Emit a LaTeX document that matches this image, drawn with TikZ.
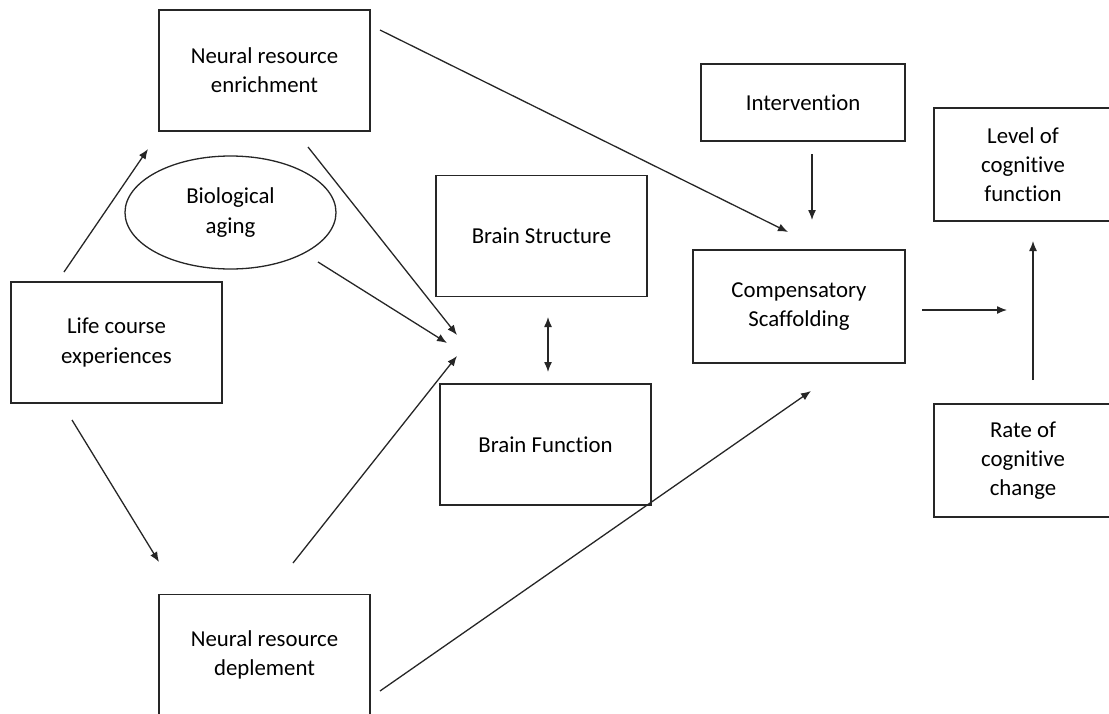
\documentclass[tikz,border=0pt]{standalone}
\usepackage{fontspec}
\setmainfont{Carlito}[Ligatures=NoCommon]
\usetikzlibrary{shapes.geometric,arrows.meta}
\tikzset{gbox/.style={
    rectangle,
    draw=black!85,
    line width=0.65pt,
    align=center,
    inner sep=0pt,
    font=\fontsize{11.4pt}{14.6pt}\selectfont,
    minimum height=60.5pt,
    minimum width=105.5pt
  },
  ibox/.style={gbox,minimum width=102pt,minimum height=38.5pt},
  cbox/.style={gbox,minimum width=106pt,minimum height=56.5pt},
  obox/.style={gbox,minimum width=89pt,minimum height=56.5pt},
  ebox/.style={gbox,ellipse,minimum width=105.5pt,minimum height=56.5pt},
  arr/.style={draw=black!85,line width=0.65pt,-{Latex[length=5pt,width=4pt]}},
}
\begin{document}
\begin{tikzpicture}[x=0.5pt,y=-0.5pt]
  \useasboundingbox (0,0) rectangle (1109,713);
  \clip (0,0) rectangle (1109,713);
  \node [gbox] (enrich) at (264.5,70.5) {Neural resource\\enrichment};
  \node [ebox] (aging) at (230.5,212.5) {Biological\\aging};
  \node [gbox] (life) at (116.5,342.5) {Life course\\experiences};
  \node [gbox] (deplete) at (264.5,655) {Neural resource\\deplement};
  \node [gbox] (struct) at (541.5,236) {Brain Structure};
  \node [gbox] (func) at (545.5,444.5) {Brain Function};
  \node [cbox] (comp) at (799,306.5) {Compensatory\\Scaffolding};
  \node [ibox] (interv) at (803,102.5) {Intervention};
  \node [obox] (level) at (1023,164.5) {Level of\\cognitive\\function};
  \node [obox] (rate) at (1023,460.5) {Rate of\\cognitive\\change};

  \coordinate (lifeUp) at (64,272);    \coordinate (enrichIn) at (148,149);
  \coordinate (lifeDown) at (72,420);  \coordinate (depleteIn) at (159,562);
  \coordinate (enrichOut) at (308,147); \coordinate (brainA) at (457,335);
  \coordinate (agingOut) at (318,262); \coordinate (brainB) at (447,343);
  \coordinate (depleteUp) at (293,563); \coordinate (brainC) at (457,356);
  \coordinate (enrichFar) at (380,30); \coordinate (compA) at (788,232);
  \coordinate (intervOut) at (812,154); \coordinate (compB) at (812,220);
  \coordinate (structOut) at (548,317); \coordinate (funcOut) at (548,372);
  \coordinate (depleteFar) at (380,691); \coordinate (compC) at (811,391);
  \coordinate (compOut) at (922,310); \coordinate (levelA) at (1007,310);
  \coordinate (rateOut) at (1033,380); \coordinate (levelB) at (1033,241);

  \draw[arr] (lifeUp) -- (enrichIn);
  \draw[arr] (lifeDown) -- (depleteIn);
  \draw[arr] (enrichOut) -- (brainA);
  \draw[arr] (agingOut) -- (brainB);
  \draw[arr] (depleteUp) -- (brainC);
  \draw[arr] (enrichFar) -- (compA);
  \draw[arr] (intervOut) -- (compB);
  \draw[arr,{Latex[length=5pt,width=4pt]}-{Latex[length=5pt,width=4pt]}] (structOut) -- (funcOut);
  \draw[arr] (depleteFar) -- (compC);
  \draw[arr] (compOut) -- (levelA);
  \draw[arr] (rateOut) -- (levelB);
\end{tikzpicture}
\end{document}
